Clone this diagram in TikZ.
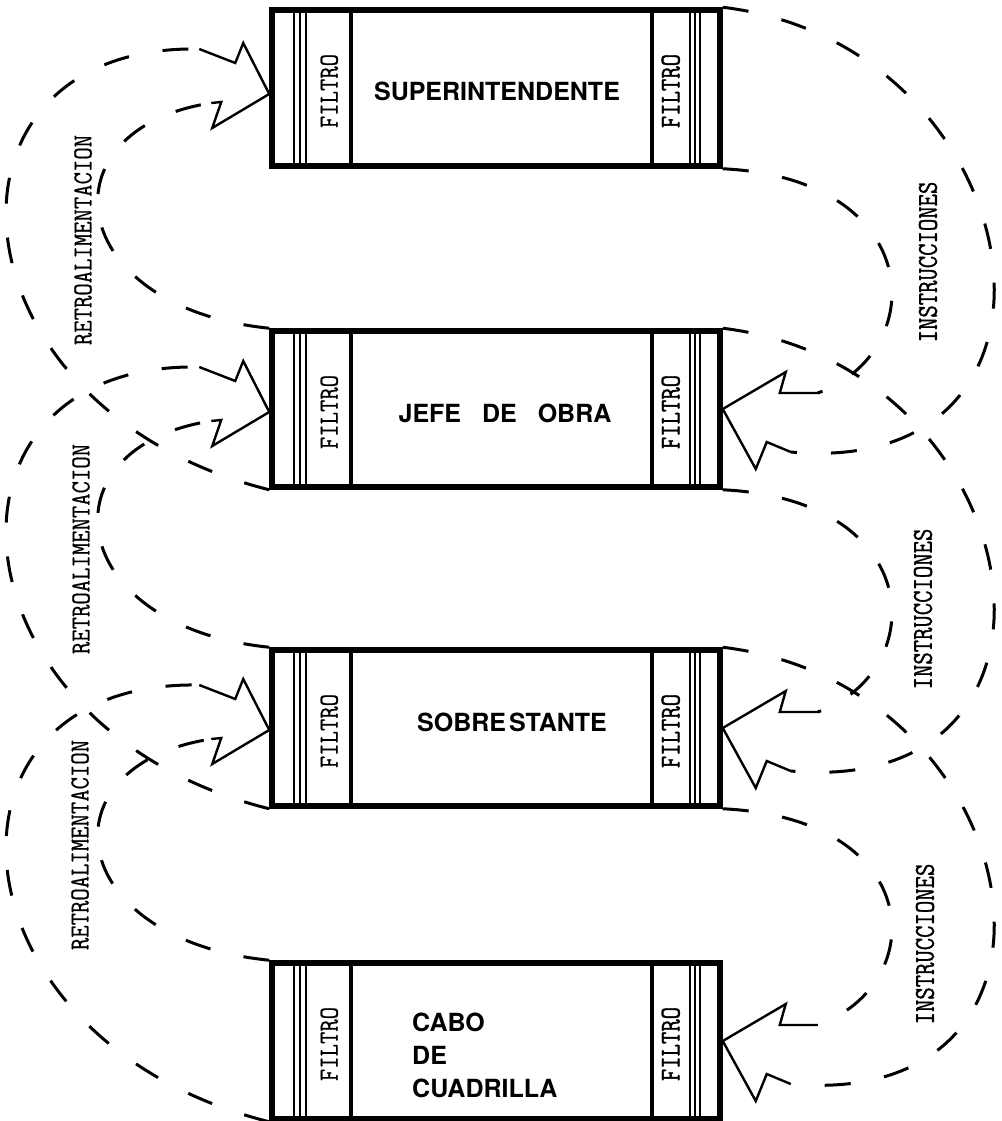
\documentclass[tikz,border=0pt]{standalone}
\usepackage{fontspec}
\usepackage{graphicx}
\newfontfamily\heros{TeX Gyre Heros}
\newfontfamily\twfont{Latin Modern Mono}[FakeBold=1.3]
\newfontfamily\twlight{Latin Modern Mono}[FakeBold=0.6]
\newcommand{\twlab}[1]{\scalebox{1}[1.2]{\twfont #1}}
\newcommand{\twlabl}[1]{\scalebox{1}[1.15]{\twlight #1}}
\begin{document}
\begin{tikzpicture}[x=1pt,y=-1pt,
  boxf/.style={draw,line width=5.5pt,minimum width=448pt,minimum height=156pt,inner sep=0pt},
  boldlabel/.style={font=\heros\bfseries\fontsize{25}{33}\selectfont,inner sep=0pt,align=left},
  vlab/.style={rotate=90,font=\fontsize{24}{24}\selectfont,inner sep=0pt},
  bolt/.style={line width=2.4pt,line join=miter},
  band/.style={line width=3pt,dash pattern=on 26pt off 34pt},
  stripthick/.style={line width=4.2pt},
  stripthin/.style={line width=1.8pt}]
\useasboundingbox (0,0) rectangle (1001,1121);
\fill[white] (0,0) rectangle (1001,1121);
% boxes
\node[boxf] (S) at (496,88) {};
\node[boxf] (J) at (496,409) {};
\node[boxf] (B) at (496,728) {};
\node[boxf] (C) at (496,1041) {};
% strips and filter labels
\foreach \b in {S,J,B,C} {
  \draw[stripthick] ([xshift=82pt]\b.north west) -- ([xshift=82pt]\b.south west);
  \draw[stripthick] ([xshift=-71pt]\b.north east) -- ([xshift=-71pt]\b.south east);
  \foreach \d in {25,31,37} {
    \draw[stripthin] ([xshift=\d pt]\b.north west) -- ([xshift=\d pt]\b.south west);
  }
  \foreach \d in {23,28,33} {
    \draw[stripthin] ([xshift=-\d pt]\b.north east) -- ([xshift=-\d pt]\b.south east);
  }
  \node[vlab] (\b-fl) at ([xshift=60pt,yshift=-3pt]\b.west) {\twlabl{FILTRO}};
  \node[vlab] (\b-fr) at ([xshift=-52pt,yshift=-3pt]\b.east) {\twlab{FILTRO}};
}
% main labels
\node[boldlabel] (St) at (497,91) {SUPERINTENDENTE};
\node[boldlabel] (Jt) at (505,413) {JEFE\hspace{14pt} DE\hspace{14pt} OBRA};
\node[boldlabel] (Bt) at (512,722) {SOBRE\kern3pt STANTE};
\node[boldlabel,anchor=west] (Ct) at (412,1055) {CABO\\DE\\CUADRILLA};
% right lightning (instructions arrive)
\foreach \b in {J,B,C} {
  \draw[bolt] (\b.east) -- ++(63,-37) -- ++(-6,21) -- ++(38,0) coordinate (\b-ru);
  \draw[bolt] (\b.east) -- ++(33,60) -- ++(11,-27) -- ++(24,10) coordinate (\b-rl);
}
% left lightning (feedback arrives)
\foreach \b/\s in {S/-6pt,J/-3pt,B/-2pt} {
  \draw[bolt] ([yshift=\s]\b.west) -- ++(-26,-51) -- ++(-8,20) -- ++(-36,-14) coordinate (\b-lu);
  \draw[bolt] ([yshift=\s]\b.west) -- ++(-57,34) -- ++(9,-26) -- ++(-10,1) coordinate (\b-ll);
}
% instruction bands (right)
\foreach \u/\l in {S/J,J/B,B/C} {
  \draw[band] (\u.north east) .. controls +(313,38) and +(313,28) .. (\l-rl);
  \draw[band] (\u.south east) .. controls +(205,10) and +(112,-40) .. (\l-ru);
}
% feedback bands (left)
\foreach \u/\l in {S/J,J/B,B/C} {
  \draw[band] (\l.south west) .. controls +(-325,-81) and +(-280,-5) .. (\u-lu);
  \draw[band] (\l.north west) .. controls +(-206,-21) and +(-170,26) .. (\u-ll);
}
% band labels
\node[vlab] (I1) at (928,262) {\twlab{INSTRUCCIONES}};
\node[vlab] (I2) at (923,609) {\twlab{INSTRUCCIONES}};
\node[vlab] (I3) at (925,944) {\twlab{INSTRUCCIONES}};
\node[vlab] (R1) at (83,240) {\twlabl{RETROALIMENTACION}};
\node[vlab] (R2) at (81,549) {\twlabl{RETROALIMENTACION}};
\node[vlab] (R3) at (80,845) {\twlabl{RETROALIMENTACION}};
\end{tikzpicture}
\end{document}
